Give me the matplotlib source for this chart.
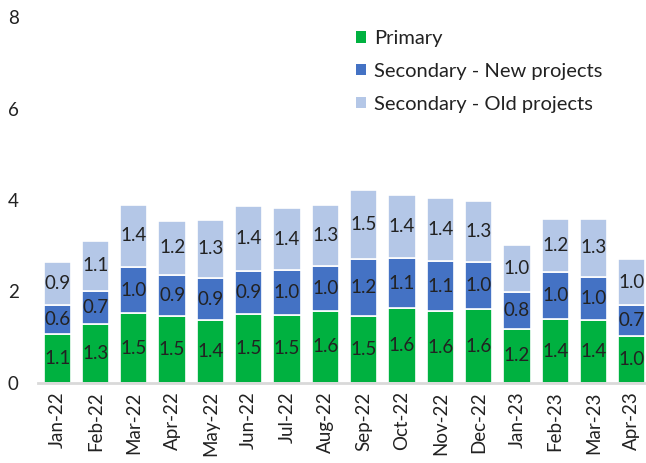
import matplotlib
matplotlib.use("Agg")
import matplotlib.pyplot as plt
import numpy as np

months = ["Jan-22", "Feb-22", "Mar-22", "Apr-22", "May-22", "Jun-22", "Jul-22", "Aug-22",
          "Sep-22", "Oct-22", "Nov-22", "Dec-22", "Jan-23", "Feb-23", "Mar-23", "Apr-23"]
primary = [1.07, 1.30, 1.52, 1.46, 1.37, 1.51, 1.49, 1.58, 1.47, 1.63, 1.57, 1.61, 1.19, 1.39, 1.37, 1.03]
new_proj = [0.64, 0.72, 1.01, 0.91, 0.93, 0.94, 0.97, 0.98, 1.23, 1.10, 1.09, 1.03, 0.81, 1.03, 0.95, 0.68]
old_proj = [0.93, 1.08, 1.37, 1.18, 1.27, 1.41, 1.36, 1.34, 1.51, 1.38, 1.38, 1.33, 1.01, 1.16, 1.27, 0.99]
primary_lbl = ["1.1", "1.3", "1.5", "1.5", "1.4", "1.5", "1.5", "1.6", "1.5", "1.6", "1.6", "1.6", "1.2", "1.4", "1.4", "1.0"]
new_lbl = ["0.6", "0.7", "1.0", "0.9", "0.9", "0.9", "1.0", "1.0", "1.2", "1.1", "1.1", "1.0", "0.8", "1.0", "1.0", "0.7"]
old_lbl = ["0.9", "1.1", "1.4", "1.2", "1.3", "1.4", "1.4", "1.3", "1.5", "1.4", "1.4", "1.3", "1.0", "1.2", "1.3", "1.0"]
series_names = ["Primary", "Secondary - New projects", "Secondary - Old projects"]
colors = ["#00B140", "#4472C4", "#B4C7E7"]

plt.rcParams['font.family'] = ['Lato', 'DejaVu Sans']
txt = "#222222"

fig = plt.figure(figsize=(6.46, 4.63), dpi=100)
ax = fig.add_axes([38/646, 1-383/463, 613/646, (383-17)/463])

x = np.arange(len(months))
w = 0.71
bottom = np.zeros(len(months))
handles = []
for vals, lbls, col, name in zip([primary, new_proj, old_proj], [primary_lbl, new_lbl, old_lbl], colors, series_names):
    vals = np.array(vals)
    b = ax.bar(x, vals, w, bottom=bottom, color=col, edgecolor="white", linewidth=1.2, label=name)
    handles.append(b)
    for xi, v, bt, l in zip(x, vals, bottom, lbls):
        ax.text(xi, bt + v/2, l, ha="center", va="center", fontsize=13.5, color=txt)
    bottom = bottom + vals

ax.set_xlim(-0.5, 15.5)
ax.set_ylim(0, 8)
ax.set_yticks([0, 2, 4, 6, 8])
ax.set_yticklabels(["0", "2", "4", "6", "8"], fontsize=13.5, color=txt)
ax.set_xticks(x)
ax.set_xticklabels(months, rotation=90, fontsize=13.5, color=txt)
ax.tick_params(axis="both", length=0)
ax.tick_params(axis="y", pad=14)
ax.tick_params(axis="x", pad=6)
for s in ["top", "right", "left"]:
    ax.spines[s].set_visible(False)
ax.spines["bottom"].set_color("#D9D9D9")
ax.spines["bottom"].set_linewidth(2)

leg = fig.legend(handles=handles, labels=series_names, loc="upper left",
                 bbox_to_anchor=(338/646, 1-12/463), frameon=False, fontsize=14.5,
                 handlelength=0.5, handleheight=0.5, handletextpad=0.4, labelspacing=0.78)
for t in leg.get_texts():
    t.set_color(txt)
for h in leg.legend_handles:
    h.set_edgecolor("none")

fig.savefig("out.png", dpi=100)
